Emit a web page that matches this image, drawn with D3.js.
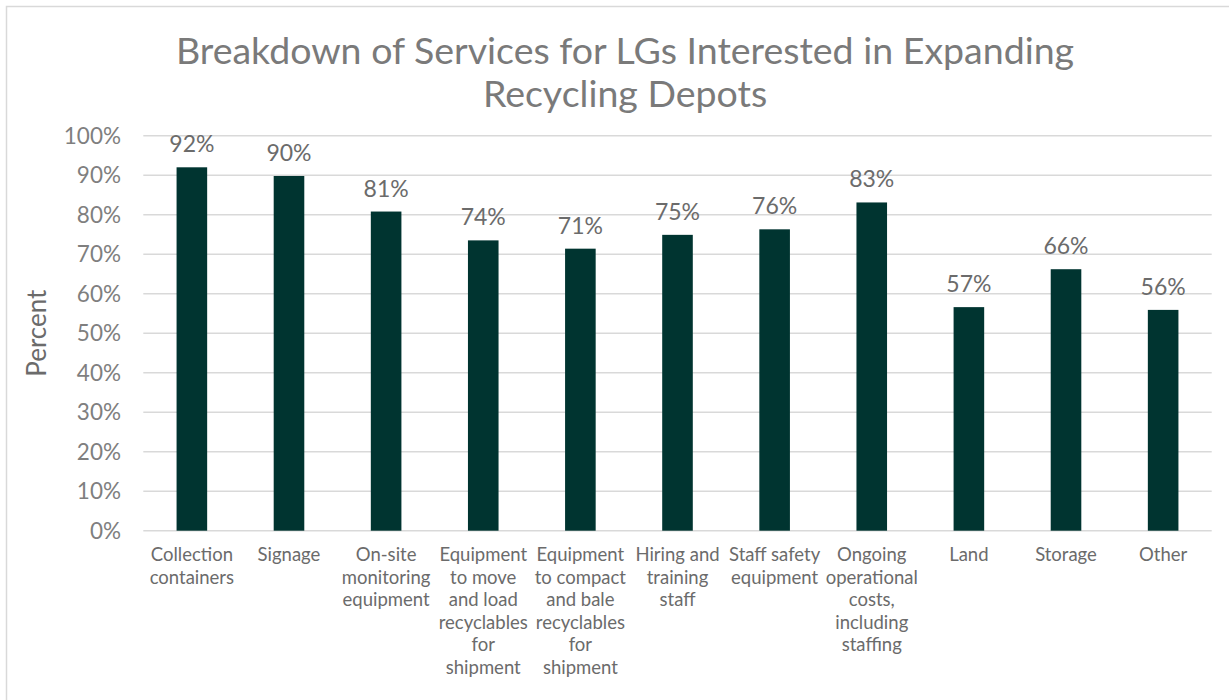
<!DOCTYPE html>
<html>
<head>
<meta charset="utf-8">
<script src="https://cdn.jsdelivr.net/npm/d3@7"></script>
<style>
  body { margin: 0; background: #fff; }
  text { font-family: Lato, "Open Sans", sans-serif; }
</style>
</head>
<body>
<div id="chart"></div>
<script>
// data
let categories = [
  ["Collection", "containers"],
  ["Signage"],
  ["On-site", "monitoring", "equipment"],
  ["Equipment", "to move", "and load", "recyclables", "for", "shipment"],
  ["Equipment", "to compact", "and bale", "recyclables", "for", "shipment"],
  ["Hiring and", "training", "staff"],
  ["Staff safety", "equipment"],
  ["Ongoing", "operational", "costs,", "including", "staffing"],
  ["Land"],
  ["Storage"],
  ["Other"]
];
let values = [0.92, 0.898, 0.808, 0.735, 0.714, 0.749, 0.763, 0.831, 0.566, 0.662, 0.559];
let yTicks = [0, 0.1, 0.2, 0.3, 0.4, 0.5, 0.6, 0.7, 0.8, 0.9, 1.0];
let titleLines = ["Breakdown of Services for LGs Interested in Expanding", "Recycling Depots"];

let width = 1229, height = 700;
let margin = {left: 143.3, right: 17.3, top: 135.7, bottom: 169.3};

let svg = d3.select("#chart")
  .append("svg")
    .attr("width", width)
    .attr("height", height)
;

// outer frame
svg.append("rect")
  .attr("x", 6.5).attr("y", 6.5)
  .attr("width", width + 20).attr("height", height + 20)
  .attr("fill", "none")
  .attr("stroke", "#d9d9d9")
  .attr("stroke-width", 1.5)
;

let x = d3.scaleBand()
  .domain(d3.range(categories.length))
  .range([margin.left, width - margin.right])
  .paddingInner(0.685)
  .paddingOuter(0.3425)
;

let y = d3.scaleLinear()
  .domain([0, 1])
  .range([height - margin.bottom, margin.top])
;

// gridlines
svg.append("g")
  .selectAll("line").data(yTicks)
  .enter()
    .append("line")
    .attr("x1", margin.left)
    .attr("x2", width - margin.right)
    .attr("y1", d => y(d))
    .attr("y2", d => y(d))
    .attr("stroke", "#d9d9d9")
    .attr("stroke-width", 1.5)
;

// y tick labels
svg.append("g")
  .selectAll("text").data(yTicks)
  .enter()
    .append("text")
    .attr("x", 121)
    .attr("y", d => y(d))
    .attr("dy", "0.35em")
    .attr("text-anchor", "end")
    .attr("font-size", 22.5)
    .attr("fill", "#7f7f7f")
    .text(d3.format(".0%"))
;

// bars
svg.append("g")
  .selectAll("rect").data(values)
  .enter()
    .append("rect")
    .attr("x", (d, i) => x(i))
    .attr("y", d => y(d))
    .attr("width", x.bandwidth())
    .attr("height", d => y(0) - y(d))
    .attr("fill", "#003430")
;

// value labels
svg.append("g")
  .selectAll("text").data(values)
  .enter()
    .append("text")
    .attr("x", (d, i) => x(i) + x.bandwidth() / 2)
    .attr("y", d => y(d) - 15)
    .attr("text-anchor", "middle")
    .attr("font-size", 23)
    .attr("fill", "#6b6b6b")
    .text(d3.format(".0%"))
;

// category labels
let cat = svg.append("g")
  .selectAll("text").data(categories)
  .enter()
    .append("text")
    .attr("text-anchor", "middle")
    .attr("font-size", 18.5)
    .attr("fill", "#6b6b6b")
;
cat.selectAll("tspan").data((d, i) => d.map(s => ({s: s, i: i})))
  .enter()
    .append("tspan")
    .attr("x", d => x(d.i) + x.bandwidth() / 2)
    .attr("y", (d, j) => 561 + j * 22.6)
    .text(d => d.s)
;

// axis title
svg.append("text")
  .attr("transform", "translate(46," + y(0.5) + ") rotate(-90)")
  .attr("text-anchor", "middle")
  .attr("font-size", 26)
  .attr("fill", "#6b6b6b")
  .text("Percent")
;

// chart title
svg.append("text")
  .attr("text-anchor", "middle")
  .attr("font-size", 37.5)
  .attr("fill", "#7a7a7a")
  .selectAll("tspan").data(titleLines)
  .enter()
    .append("tspan")
    .attr("x", 625)
    .attr("y", (d, i) => 64 + i * 43)
    .text(d => d)
;
</script>
</body>
</html>
